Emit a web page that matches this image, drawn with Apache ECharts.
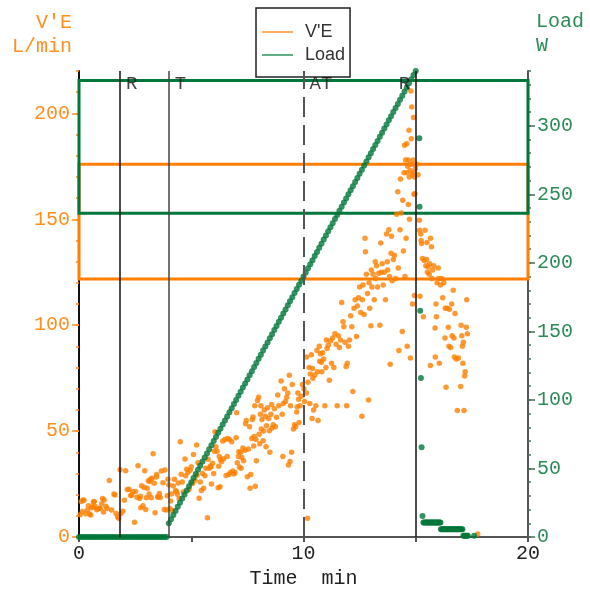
<!DOCTYPE html>
<html><head><meta charset="utf-8">
<script src="https://cdn.jsdelivr.net/npm/echarts@6/dist/echarts.min.js"></script>
<style>html,body{margin:0;padding:0;background:#fff}#c{width:590px;height:592px}</style>
</head><body><div id="c"></div>
<script>
// ---------- DATA ----------
// V'E (L/min) breath values [time min, L/min]
const veBaseline = [[0.05,10.5],[0.1,16.8],[0.15,12],[0.18,17.5],[0.22,17.3],[0.3,11],[0.37,12.7],[0.42,14.8],[0.47,10.8],[0.52,10.4],[0.56,13.8],[0.62,14.2],[0.64,16.5],[0.68,16.8],[0.71,14.5],[0.79,12.9],[0.85,13.3],[0.9,13.6],[0.94,13.5],[1.01,15.7],[1.05,18.2],[1.09,11.8],[1.12,17.5],[1.2,14.5],[1.25,13.4],[1.35,26.7],[1.45,12.7],[1.56,20.3],[1.6,19.8],[1.65,11.1],[1.72,9.4],[1.77,8.8],[1.83,31.8],[1.86,11],[1.95,12.1],[2.02,17.3],[2.08,31.3],
[2.15,22.4],[2.23,22.6],[2.3,19.6],[2.35,19.8],[2.4,21.4],[2.47,7],[2.52,21.5],[2.58,18.8],[2.63,33.6],[2.7,18.2],[2.73,19.2],[2.75,13.8],[2.79,24.2],[2.85,14.8],[2.9,23.4],[2.93,31.3],[2.97,13],[3.0,18.5],[3.04,23],[3.09,26.6],[3.12,20.3],[3.15,26.2],[3.19,27.3],[3.22,18.5],[3.25,27.7],[3.3,39.3],[3.35,25.4],[3.39,11.5],[3.45,28.3],[3.46,29.5],[3.5,19],[3.53,18.8],[3.58,20.5],[3.62,18.7],[3.67,31.1],[3.74,25.6],[3.8,13],[3.83,31.6],[3.89,12.7],[3.93,19.5],[3.96,27.3]];
const veExercise = [[4.0,24.5],[4.05,13.5],[4.08,17],[4.12,20.3],[4.15,12.5],[4.2,24.1],[4.25,27.3],[4.3,21.8],[4.34,21.5],[4.38,20.2],[4.42,25.5],[4.46,18.2],[4.51,45],[4.55,29.6],[4.6,26],[4.65,21.2],[4.72,36.8],[4.75,28.9],[4.8,32],[4.85,30.5],[4.9,22.6],[4.95,31.5],[5.0,33.2],[5.05,25.2],[5.1,39],[5.17,26.8],[5.24,43.4],[5.26,29.2],[5.3,35],[5.35,18.3],[5.4,26],[5.45,22],[5.5,30],[5.55,23],[5.61,28.9],[5.65,32.5],[5.72,9.1],[5.75,36.7],[5.8,32.5],[5.85,33.5],[5.88,33],[5.9,25],[5.95,34.8],[6.0,30],[6.03,40.5],[6.06,49.7],
[6.1,42.6],[6.15,40.5],[6.2,23.2],[6.22,33.4],[6.25,38],[6.28,23.7],[6.3,36.5],[6.35,35.5],[6.4,45.3],[6.45,37],[6.5,46],[6.55,29],[6.6,38],[6.62,46.5],[6.67,29.5],[6.7,46],[6.75,30.5],[6.8,45],[6.85,31.2],[6.9,29.8],[6.95,30.5],[7.0,46.8],[7.02,58.6],[7.05,35],[7.1,38],[7.12,40.2],[7.15,33],[7.2,40],[7.22,32.5],[7.25,37.5],[7.3,42],[7.33,36],[7.4,41],[7.42,53.5],[7.45,55],[7.5,28.5],[7.55,41.5],[7.6,52],[7.62,23],[7.65,29.5],[7.7,46.5],[7.72,55.5],[7.75,56.6],[7.78,43],[7.8,47.5],[7.83,62],[7.85,24],[7.88,46],[7.9,36],[7.95,64.5],[8.0,66],
[8.02,48.5],[8.05,44],[8.08,58],[8.1,62],[8.12,51],[8.15,55.5],[8.2,45.4],[8.22,50],[8.25,60],[8.3,57],[8.33,42.6],[8.35,52.5],[8.4,61],[8.45,56],[8.48,50.2],[8.5,40],[8.55,58],[8.58,62.5],[8.6,51.5],[8.65,53],[8.7,60.5],[8.75,52],[8.8,56.5],[8.85,67],[8.9,62],[9.0,73.7],[9.05,58],[9.08,38],[9.1,63],[9.15,70],[9.2,64],[9.25,66],[9.3,68],[9.33,34],[9.37,76.4],[9.4,35.6],[9.42,62],[9.47,40],[9.5,72],[9.55,51],[9.6,53],[9.65,52],[9.7,59],[9.72,61.5],[9.75,68],[9.78,65],[9.8,54],[9.85,62],[9.9,66.5],[9.95,72],
[10.02,70],[10.05,64],[10.13,68],[10.14,85],[10.18,8.8],[10.2,73],[10.25,80],[10.28,63],[10.3,77],[10.35,86],[10.38,56],[10.4,79.6],[10.42,75],[10.45,60],[10.5,76.5],[10.55,62],[10.6,88],[10.62,78],[10.65,55],[10.7,90],[10.72,83],[10.75,86.5],[10.8,82.5],[10.82,78],[10.85,87],[10.9,84],[10.95,62],[11.0,80],[11.02,93],[11.05,89],[11.1,90.5],[11.15,74],[11.2,92.5],[11.25,82],[11.3,94],[11.35,80],[11.4,96],[11.45,91],[11.5,62],[11.55,95],[11.6,89.5],[11.65,93],[11.7,110.7],[11.76,101.6],[11.8,99.3],[11.85,92],[11.9,80.5],[11.92,62],[11.95,82],[12.0,90],
[12.05,93],[12.1,104.5],[12.15,99.3],[12.2,68.7],[12.25,108],[12.3,112],[12.36,94.6],[12.4,109],[12.45,113],[12.5,118],[12.55,106],[12.6,57],[12.62,112],[12.65,119],[12.7,105],[12.74,141],[12.76,134.7],[12.8,124],[12.85,115],[12.9,64.7],[12.92,120],[12.95,108],[13.0,99.7],[13.02,126],[13.05,118],[13.1,124],[13.15,112],[13.2,130],[13.22,122],[13.25,128],[13.3,118],[13.35,124.5],[13.4,100],[13.44,138.8],[13.47,125],[13.5,129],[13.55,119],[13.6,125],[13.65,112],[13.7,143],[13.73,130],[13.75,126],[13.8,145],[13.83,123],[13.86,81.6],[13.9,134],[13.92,142],[13.95,121],[14.0,131],
[14.05,133],[14.1,122],[14.15,152.4],[14.2,163],[14.22,127],[14.25,88],[14.3,145],[14.32,169],[14.35,153],[14.4,97],[14.42,159],[14.45,135],[14.48,172],[14.5,185],[14.52,123],[14.55,178],[14.57,141],[14.6,185.6],[14.61,172],[14.62,90],[14.64,175],[14.66,178],[14.67,157],[14.7,192],[14.71,170],[14.72,150],[14.74,176],[14.75,173],[14.76,84.5],[14.78,210.5],[14.8,188],[14.82,203],[14.84,171],[14.85,176],[14.86,110],[14.88,178],[14.9,198],[14.91,172],[14.92,161.8],[14.94,114],[14.95,170],[14.96,162],[14.98,174]];
const veRecovery = [[15.05,176],[15.1,171],[15.16,149.5],[15.17,144.8],[15.19,113.7],[15.22,143],[15.24,140],[15.26,138.6],[15.3,131.5],[15.34,104],[15.38,130.5],[15.41,144.8],[15.45,128],[15.48,131],[15.5,139],[15.52,125],[15.55,127.5],[15.6,124],[15.62,129],[15.65,81],[15.66,141],[15.7,137],[15.72,122],[15.75,126],[15.8,128],[15.86,98.7],[15.87,85],[15.9,110],[15.92,104],[15.95,120],[16.0,127],[16.02,122],[16.05,82],[16.1,119],[16.15,122],[16.2,113],[16.25,120],[16.3,94],[16.32,108],[16.35,70.7],[16.4,108],[16.45,99],[16.48,90],[16.5,107.5],[16.55,89.5],[16.6,110],[16.62,95],[16.67,116.5],[16.7,94],[16.72,85],[16.75,105.5],[16.8,84],[16.85,59.7],[16.9,84.5],[17.0,71],[17.02,100],[17.05,95],[17.08,90],[17.1,82],[17.12,92],[17.15,59.7],[17.18,76],[17.2,78],[17.25,99],[17.27,112],[17.3,96],[17.76,1.4]];

// Load (W) [time min, W]
const loadRest = [[0,0],[0.1,0],[0.2,0],[0.3,0],[0.4,0],[0.5,0],[0.6,0],[0.7,0],[0.8,0],[0.9,0],[1.0,0],[1.1,0],[1.2,0],[1.3,0],[1.4,0],[1.5,0],[1.6,0],[1.7,0],[1.8,0],[1.9,0],[2.0,0],[2.1,0],[2.2,0],[2.3,0],[2.4,0],[2.5,0],[2.6,0],[2.7,0],[2.8,0],[2.9,0],[3.0,0],[3.1,0],[3.2,0],[3.3,0],[3.4,0],[3.5,0],[3.6,0],[3.7,0],[3.8,0],[3.9,0]];
const loadRamp = [[4.0,10],[4.1,13],[4.2,16],[4.3,19],[4.4,22],[4.5,25],[4.6,28],[4.7,31],[4.8,34],[4.9,37],
[5.0,40],[5.1,43],[5.2,46],[5.3,49],[5.4,52],[5.5,55],[5.6,58],[5.7,61],[5.8,64],[5.9,67],
[6.0,70],[6.1,73],[6.2,76],[6.3,79],[6.4,82],[6.5,85],[6.6,88],[6.7,91],[6.8,94],[6.9,97],
[7.0,100],[7.1,103],[7.2,106],[7.3,109],[7.4,112],[7.5,115],[7.6,118],[7.7,121],[7.8,124],[7.9,127],
[8.0,130],[8.1,133],[8.2,136],[8.3,139],[8.4,142],[8.5,145],[8.6,148],[8.7,151],[8.8,154],[8.9,157],
[9.0,160],[9.1,163],[9.2,166],[9.3,169],[9.4,172],[9.5,175],[9.6,178],[9.7,181],[9.8,184],[9.9,187],
[10.0,190],[10.1,193],[10.2,196],[10.3,199],[10.4,202],[10.5,205],[10.6,208],[10.7,211],[10.8,214],[10.9,217],
[11.0,220],[11.1,223],[11.2,226],[11.3,229],[11.4,232],[11.5,235],[11.6,238],[11.7,241],[11.8,244],[11.9,247],
[12.0,250],[12.1,253],[12.2,256],[12.3,259],[12.4,262],[12.5,265],[12.6,268],[12.7,271],[12.8,274],[12.9,277],
[13.0,280],[13.1,283],[13.2,286],[13.3,289],[13.4,292],[13.5,295],[13.6,298],[13.7,301],[13.8,304],[13.9,307],
[14.0,310],[14.1,313],[14.2,316],[14.3,319],[14.4,322],[14.5,325],[14.6,328],[14.7,331],[14.8,334],[14.9,337],[15.0,340]];
const loadRecovery = [[15.16,291],[15.17,241],[15.2,165],[15.23,116],[15.26,65.5],[15.3,15.3],
[15.34,10.5],[15.38,10.5],[15.42,10.5],[15.46,10.5],[15.5,10.5],[15.54,10.5],[15.58,10.5],[15.62,10.5],[15.66,10.5],[15.7,10.5],[15.74,10.5],[15.78,10.5],[15.82,10.5],[15.86,10.5],[15.9,10.5],[15.94,10.5],[15.98,10.5],[16.02,10.5],[16.06,10.5],[16.1,10.5],
[16.12,5.6],[16.16,5.6],[16.2,5.6],[16.24,5.6],[16.28,5.6],[16.32,5.6],[16.36,5.6],[16.4,5.6],[16.44,5.6],[16.48,5.6],[16.52,5.6],[16.56,5.6],[16.6,5.6],[16.64,5.6],[16.68,5.6],[16.72,5.6],[16.76,5.6],[16.8,5.6],[16.84,5.6],[16.88,5.6],[16.92,5.6],[16.96,5.6],[17.0,5.6],[17.04,5.6],[17.08,5.6],
[17.12,1],[17.16,1],[17.2,1],[17.24,1],[17.28,1],[17.32,1],[17.6,1]];

// event markers
const markerTimes = [1.83, 4.0, 10.0, 15.0];
const markerNames = ['R', 'T', 'AT', 'R'];
// reference bands
const veBand = [121.8, 176];
const loadBand = [236.2, 333];
// axes
const xLabelValues = [0, 10, 20];
const xTickValues = [0, 5, 10, 15, 20];
const veLabelValues = [0, 50, 100, 150, 200];
const loadLabelValues = [0, 50, 100, 150, 200, 250, 300];
const veMax = 220, loadMax = 340, timeMax = 20;

// ---------- STYLE ----------
const ORANGE = '#ff7f00', ORANGE_TXT = '#ff8f1f';
const GREEN = '#00773a', GREEN_TXT = '#2e8b57';
const MONO = '"Liberation Mono", "DejaVu Sans Mono", monospace';
const markerLineStyle = {
  R: {color: '#111', width: 1.5, type: 'solid'},
  T: {color: '#444', width: 1.5, type: 'solid'},
  AT: {color: '#555', width: 2, type: [20, 8]}
};
// label placement per marker (last one sits left of its line)
const markerLabelPos = [[6, 3], [6, 3], [6, 3], [-17, 3]];

const chart = echarts.init(document.getElementById('c'), null, {renderer: 'canvas'});
const yCommon = {type: 'value', min: 0, splitLine: {show: false}};
chart.setOption({
  animation: false,
  grid: {left: 79, right: 62, top: 71, bottom: 55, containLabel: false, outerBoundsMode: 'none'},
  legend: {
    left: 256, top: 8, orient: 'vertical',
    borderColor: '#222', borderWidth: 1.5, padding: [15, 5, 13, 6],
    itemWidth: 31, itemHeight: 2, itemGap: 5,
    textStyle: {fontFamily: '"Liberation Sans", Arial, sans-serif', fontSize: 18, color: '#333', padding: [0, 0, 0, 7]},
    data: [
      {name: "V'E", icon: 'rect', itemStyle: {color: '#ff9a3c'}},
      {name: 'Load', icon: 'rect', itemStyle: {color: '#3c9a6a'}}
    ]
  },
  xAxis: {
    type: 'value', min: 0, max: timeMax, interval: 5,
    axisLine: {lineStyle: {color: '#555', width: 2}},
    axisTick: {length: 5, lineStyle: {color: '#555', width: 2}, customValues: xTickValues},
    axisLabel: {customValues: xLabelValues, color: '#222', fontFamily: MONO, fontSize: 20, margin: 7},
    splitLine: {show: false},
    name: 'Time  min', nameLocation: 'middle', nameGap: 32,
    nameTextStyle: {color: '#222', fontFamily: MONO, fontSize: 20}
  },
  yAxis: [
    Object.assign({}, yCommon, {
      max: veMax, position: 'left',
      axisLine: {show: true, onZero: false, lineStyle: {color: '#111', width: 2}},
      axisTick: {show: true, length: 7, customValues: veLabelValues, lineStyle: {color: ORANGE_TXT, width: 1.5}},
      axisLabel: {customValues: veLabelValues, color: ORANGE_TXT, fontFamily: MONO, fontSize: 20, margin: 9}
    }),
    Object.assign({}, yCommon, {
      max: loadMax, position: 'right',
      axisLine: {show: true, onZero: false, lineStyle: {color: '#555', width: 2}},
      axisTick: {show: true, length: 7, customValues: loadLabelValues, lineStyle: {color: '#4c6b5a', width: 1.5}},
      axisLabel: {customValues: loadLabelValues, color: GREEN_TXT, fontFamily: MONO, fontSize: 20, margin: 9}
    }),
    Object.assign({}, yCommon, {
      max: veMax, interval: 10, position: 'left',
      axisLine: {show: false}, axisLabel: {show: false},
      axisTick: {show: true, length: 3, lineStyle: {color: ORANGE_TXT, width: 1.5}}
    }),
    Object.assign({}, yCommon, {
      max: loadMax, interval: 10, position: 'right',
      axisLine: {show: false}, axisLabel: {show: false},
      axisTick: {show: true, length: 3, lineStyle: {color: '#4c6b5a', width: 1.5}}
    })
  ],
  graphic: [
    {type: 'text', x: 72, y: 23, style: {text: "V'E", fill: ORANGE_TXT, font: '20px ' + MONO, align: 'right', verticalAlign: 'middle'}},
    {type: 'text', x: 72, y: 47, style: {text: 'L/min', fill: ORANGE_TXT, font: '20px ' + MONO, align: 'right', verticalAlign: 'middle'}},
    {type: 'text', x: 536, y: 22, style: {text: 'Load', fill: GREEN_TXT, font: '20px ' + MONO, align: 'left', verticalAlign: 'middle'}},
    {type: 'text', x: 536, y: 46, style: {text: 'W', fill: GREEN_TXT, font: '20px ' + MONO, align: 'left', verticalAlign: 'middle'}}
  ],
  series: [
    {
      name: 'veBand', type: 'line', yAxisIndex: 0, data: [], z: 1, silent: true,
      markArea: {silent: true, itemStyle: {color: 'rgba(0,0,0,0)', borderColor: ORANGE, borderWidth: 3},
        data: [[{yAxis: veBand[0]}, {yAxis: veBand[1]}]]}
    },
    {
      name: 'loadBand', type: 'line', yAxisIndex: 1, data: [], z: 2, silent: true,
      markArea: {silent: true, itemStyle: {color: 'rgba(0,0,0,0)', borderColor: GREEN, borderWidth: 3},
        data: [[{yAxis: loadBand[0]}, {yAxis: loadBand[1]}]]}
    },
    {
      name: 'markers', type: 'line', yAxisIndex: 0, data: [], z: 2, silent: true,
      markLine: {silent: true, symbol: ['none', 'none'], label: {show: false},
        data: markerTimes.map((t, i) => ({xAxis: t, lineStyle: markerLineStyle[markerNames[i]]}))}
    },
    {
      name: "V'E", type: 'scatter', yAxisIndex: 0, z: 3, symbolSize: 5.5,
      itemStyle: {color: ORANGE},
      data: veBaseline.concat(veExercise, veRecovery)
    },
    {
      name: 'Load', type: 'scatter', yAxisIndex: 1, z: 4, symbolSize: 6,
      itemStyle: {color: GREEN},
      data: loadRest.concat(loadRamp, loadRecovery)
    },
    {
      name: 'markerLabels', type: 'scatter', yAxisIndex: 0, z: 6, symbolSize: 0, silent: true,
      data: markerTimes.map((t, i) => ({value: [t, veMax], name: markerNames[i], label: {position: markerLabelPos[i]}})),
      label: {show: true, formatter: '{b}', color: '#111', fontFamily: MONO, fontSize: 19}
    }
  ]
});
</script></body></html>
